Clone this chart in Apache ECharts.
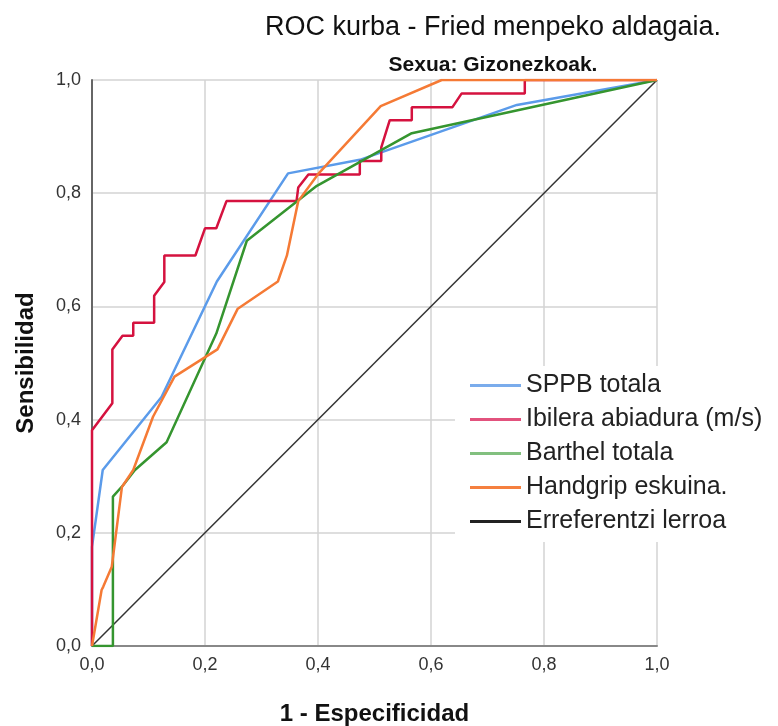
<!DOCTYPE html>
<html>
<head>
<meta charset="utf-8">
<script src="https://cdn.jsdelivr.net/npm/echarts@6/dist/echarts.min.js"></script>
<style>
  html, body { margin: 0; padding: 0; background: #fff; }
  #chart { width: 778px; height: 726px; }
</style>
</head>
<body>
<div id="chart"></div>
<script>
// ROC curves: false positive rate (1 - Especificidad) vs. sensitivity
const seriesNames = ['SPPB totala', 'Ibilera abiadura (m/s)', 'Barthel totala', 'Handgrip eskuina.', 'Erreferentzi lerroa'];

const sppbFpr  = [0, 0, 0.019, 0.123, 0.221, 0.347, 0.474, 0.752, 1];
const sppbSens = [0, 0.175, 0.311, 0.440, 0.644, 0.835, 0.859, 0.956, 1];

const ibileraFpr  = [0, 0, 0.036, 0.036, 0.054, 0.073, 0.073, 0.110, 0.110, 0.128, 0.128, 0.183, 0.200, 0.220, 0.238, 0.362, 0.365, 0.383, 0.474, 0.474, 0.512, 0.512, 0.527, 0.566, 0.566, 0.638, 0.654, 0.766, 0.766, 1];
const ibileraSens = [0, 0.381, 0.429, 0.524, 0.548, 0.548, 0.571, 0.571, 0.619, 0.643, 0.690, 0.690, 0.738, 0.738, 0.786, 0.786, 0.810, 0.833, 0.833, 0.857, 0.857, 0.881, 0.929, 0.929, 0.952, 0.952, 0.976, 0.976, 1, 1];

const barthelFpr  = [0, 0.037, 0.037, 0.055, 0.076, 0.132, 0.220, 0.274, 0.398, 0.566, 1];
const barthelSens = [0, 0, 0.264, 0.284, 0.311, 0.360, 0.552, 0.716, 0.813, 0.906, 1];

const handgripFpr  = [0, 0.017, 0.020, 0.035, 0.053, 0.073, 0.108, 0.146, 0.222, 0.258, 0.329, 0.345, 0.365, 0.402, 0.511, 0.619, 1];
const handgripSens = [0, 0.099, 0.105, 0.140, 0.281, 0.311, 0.405, 0.476, 0.524, 0.596, 0.644, 0.690, 0.786, 0.836, 0.954, 1, 1];

const refFpr  = [0, 1];
const refSens = [0, 1];

const xTicks = [0, 0.2, 0.4, 0.6, 0.8, 1.0];
const yTicks = [0, 0.2, 0.4, 0.6, 0.8, 1.0];

const lineColors   = ['#5b9bea', '#d5123f', '#35952f', '#f57a35', '#333333'];
const legendColors = ['#7aacec', '#e2527d', '#82c07f', '#f5803f', '#222222'];

function pairs(xs, ys) { return xs.map((x, i) => [x, ys[i]]); }
const fmt = v => v.toFixed(1).replace('.', ',');

const curveData = [
  pairs(sppbFpr, sppbSens),
  pairs(ibileraFpr, ibileraSens),
  pairs(barthelFpr, barthelSens),
  pairs(handgripFpr, handgripSens),
  pairs(refFpr, refSens)
];

const FONT = '"Liberation Sans", Arial, sans-serif';

const chart = echarts.init(document.getElementById('chart'), null, { renderer: 'canvas' });
chart.setOption({
  animation: false,
  backgroundColor: '#ffffff',
  title: [
    { text: 'ROC kurba - Fried menpeko aldagaia.', left: 488, top: 9, textAlign: 'center',
      textStyle: { fontFamily: FONT, fontSize: 27, fontWeight: 'normal', color: '#111' } },
    { text: 'Sexua: Gizonezkoak.', left: 488, top: 50, textAlign: 'center',
      textStyle: { fontFamily: FONT, fontSize: 21, fontWeight: 'bold', color: '#111' } }
  ],
  grid: { left: 92, right: 121, top: 80, bottom: 80, containLabel: false, outerBoundsMode: 'none' },
  xAxis: {
    type: 'value', min: 0, max: 1, interval: 0.2,
    name: '1 - Especificidad', nameLocation: 'middle', nameGap: 56,
    nameTextStyle: { fontFamily: FONT, fontSize: 24, fontWeight: 'bold', color: '#111' },
    axisLine: { show: true, onZero: false, lineStyle: { color: '#888', width: 2 } },
    axisTick: { show: false },
    axisLabel: { fontFamily: FONT, fontSize: 18, color: '#333', margin: 10,
      formatter: v => xTicks.includes(+v.toFixed(1)) ? fmt(v) : '' },
    splitLine: { show: true, lineStyle: { color: '#d3d3d3', width: 1.5 } }
  },
  yAxis: {
    type: 'value', min: 0, max: 1, interval: 0.2,
    name: 'Sensibilidad', nameLocation: 'middle', nameGap: 54,
    nameTextStyle: { fontFamily: FONT, fontSize: 24, fontWeight: 'bold', color: '#111' },
    axisLine: { show: true, onZero: false, lineStyle: { color: '#666', width: 2 } },
    axisTick: { show: false },
    axisLabel: { fontFamily: FONT, fontSize: 18, color: '#333', margin: 11,
      formatter: v => yTicks.includes(+v.toFixed(1)) ? fmt(v) : '' },
    splitLine: { show: true, lineStyle: { color: '#d3d3d3', width: 1.5 } }
  },
  legend: {
    orient: 'vertical', left: 455, top: 366, z: 10,
    backgroundColor: '#ffffff',
    padding: [5, 12, 6, 15],
    itemWidth: 51, itemHeight: 3, itemGap: 5,
    icon: 'rect',
    textStyle: { fontFamily: FONT, fontSize: 25, color: '#222', lineHeight: 29 },
    data: seriesNames.map((n, i) => ({ name: n, itemStyle: { color: legendColors[i] } }))
  },
  series: seriesNames.map((n, i) => ({
    name: n, type: 'line', data: curveData[i],
    symbol: 'none', silent: true,
    lineStyle: { color: lineColors[i], width: i === 4 ? 1.5 : 2.5 },
    itemStyle: { color: legendColors[i] },
    z: i === 4 ? 1 : 2 + i
  }))
});
</script>
</body>
</html>
